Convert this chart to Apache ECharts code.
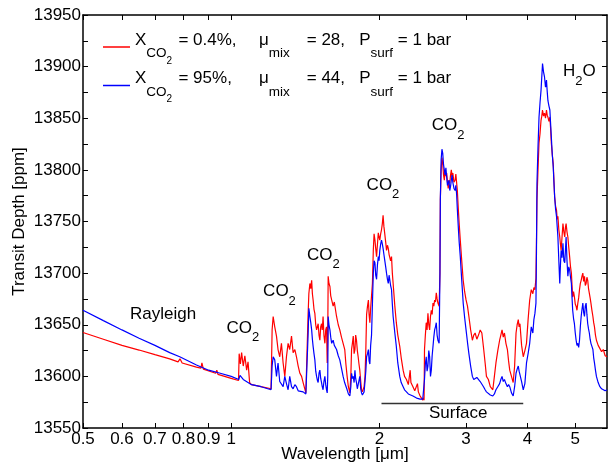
<!DOCTYPE html>
<html>
<head>
<meta charset="utf-8">
<script src="https://cdn.jsdelivr.net/npm/echarts@6/dist/echarts.min.js"></script>
<style>html,body{margin:0;padding:0;background:#fff}#c{width:608px;height:468px}</style>
</head>
<body>
<div id="c"></div>
<script>
// ---------- axis ticks ----------
const xTickValues = [0.5, 0.6, 0.7, 0.8, 0.9, 1, 2, 3, 4, 5];
const xMin = 0.5, xMax = 5.8;
const yTickValues = [13550,13575,13600,13625,13650,13675,13700,13725,13750,13775,13800,13825,13850,13875,13900,13925,13950];
const yLabelValues = [13550,13600,13650,13700,13750,13800,13850,13900,13950];

// ---------- series: X_CO2 = 0.4 % (red) ----------
const redWavelength = [0.50,0.55,0.60,0.65,0.70,0.75,0.78,0.787,0.795,0.85,0.868,0.872,0.878,0.93,0.935,0.94,1.00,1.035,1.038,1.044,1.05,1.058,1.066,1.075,1.082,1.09,1.10,1.15,1.205,
1.211,1.217,1.226,1.236,1.245,1.255,1.265,1.275,1.285,1.295,1.305,1.315,1.326,1.336,1.347,1.357,1.368,1.379,1.39,1.40,1.418,1.428,
1.433,1.438,1.445,1.451,1.457,1.462,1.467,1.473,1.479,1.485,1.491,1.502,1.508,1.514,1.52,1.526,1.531,1.537,1.543,1.55,1.556,1.562,1.567,1.571,1.574,1.58,1.587,1.593,1.6,1.611,1.62,1.637,1.65,1.662,1.675,1.688,1.701,1.71,1.72,1.73,1.742,
1.75,1.756,1.763,1.77,1.777,1.784,1.79,1.797,1.804,1.811,1.818,1.825,1.833,1.84,1.847,1.854,1.862,1.87,1.877,1.884,1.892,1.9,1.906,1.913,1.92,1.928,1.936,
1.944,1.951,1.959,1.966,1.974,1.982,1.99,1.997,2.004,2.012,2.02,2.028,2.035,2.043,2.05,2.06,2.068,2.077,2.085,2.093,2.10,2.108,2.117,2.125,2.133,2.15,2.165,2.18,2.20,2.215,2.235,2.25,2.27,2.29,2.31,2.318,2.34,2.36,2.38,2.39,2.40,2.42,2.435,2.45,2.46,2.465,
2.47,2.48,2.49,2.5,2.51,2.52,2.53,2.54,2.55,2.56,2.57,2.58,2.59,2.60,2.61,2.62,2.63,2.645,2.655,
2.66,2.67,2.68,2.69,2.70,2.71,2.72,2.73,2.74,2.75,2.76,2.77,2.78,2.79,2.80,2.81,2.82,2.835,2.85,2.86,2.87,2.88,2.895,2.905,2.92,2.94,2.96,2.98,3.00,3.02,3.04,3.065,3.09,3.11,3.13,3.155,3.18,3.205,3.23,3.255,3.28,3.30,3.33,3.36,3.40,3.425,3.45,3.48,3.51,3.53,3.55,3.57,3.59,3.615,3.64,3.66,3.68,3.71,3.74,3.765,3.79,3.81,3.83,3.845,3.86,3.89,3.92,3.95,3.98,
4.01,4.04,4.07,4.10,4.12,4.14,4.16,4.17,4.18,4.20,4.22,4.24,4.26,4.275,4.29,4.31,4.33,4.35,4.37,4.385,4.40,4.42,4.44,4.455,4.47,4.49,4.51,4.525,4.54,4.56,4.58,4.595,4.61,4.63,4.65,4.665,4.68,4.70,4.72,4.74,4.76,4.775,4.79,4.81,4.83,4.85,4.87,4.89,4.91,4.925,4.94,4.96,4.98,
5.00,5.02,5.04,5.06,5.08,5.10,5.12,5.14,5.16,5.18,5.20,5.22,5.24,5.26,5.28,5.30,5.32,5.34,5.36,5.38,5.405,5.43,5.45,5.47,5.495,5.52,5.565,5.61,5.655,5.70,5.75,5.80];
const redDepth = [13642.5,13636,13630,13625.5,13621,13617,13614,13617,13613,13609,13608,13613,13607,13603,13606,13602,13598,13596,13622,13612,13623,13610,13620,13606,13614,13594,13592,13590,13588,
13645,13658,13648,13639,13626,13619,13632,13613,13600,13619,13632,13626,13639,13623,13626,13619,13610,13603,13600,13594,13584,13583,
13660,13680,13690,13685,13693,13680,13674,13665,13661,13650,13645,13651,13640,13635,13648,13651,13645,13658,13640,13632,13645,13648,13613,13640,13697,13690,13687,13678,13674,13668,13672,13658,13650,13645,13638,13632,13626,13612,13600,13590,13584,
13600,13626,13632,13639,13622,13626,13640,13635,13625,13619,13612,13606,13595,13587,13585,13584,13590,13600,13625,13660,13668,13674,13660,13652,13666,13665,13690,
13722,13738,13732,13724,13716,13728,13739,13735,13732,13738,13742,13748,13756,13745,13739,13730,13722,13727,13724,13718,13719,13712,13716,13700,13690,13668,13652,13640,13629,13618,13606,13600,13597,13592,13606,13594,13590,13586,13587,13593,13585,13581,13579,13577,13579,13577,
13626,13640,13652,13645,13661,13650,13645,13658,13664,13660,13671,13668,13674,13672,13681,13675,13671,13668,13700,
13771,13800,13812,13806,13795,13790,13800,13794,13797,13788,13782,13790,13787,13795,13800,13793,13797,13788,13790,13796,13795,13780,13760,13748,13732,13712,13693,13682,13674,13668,13658,13645,13635,13640,13642,13636,13640,13645,13642,13628,13613,13600,13597,13590,13587,13600,13613,13625,13635,13640,13645,13638,13642,13632,13626,13615,13606,13600,13594,13610,13642,13650,13655,13648,13651,13630,13619,13625,13632,
13655,13674,13684,13680,13686,13684,13695,13730,13771,13800,13826,13835,13848,13852,13858,13852,13855,13850,13858,13853,13851,13847,13851,13840,13826,13815,13806,13790,13774,13765,13761,13752,13755,13742,13735,13728,13722,13735,13748,13740,13735,13744,13748,13740,13735,13725,13716,13706,13700,13688,13677,13682,13677,
13670,13668,13664,13671,13676,13684,13690,13693,13697,13700,13692,13697,13688,13690,13696,13693,13685,13684,13676,13671,13664,13658,13652,13648,13640,13635,13630,13629,13624,13626,13620,13619];

// ---------- series: X_CO2 = 95 % (blue) ----------
const blueWavelength = [0.50,0.55,0.60,0.65,0.70,0.75,0.786,0.85,0.90,0.95,1.00,1.036,1.042,1.05,1.058,1.10,1.15,1.205,
1.211,1.217,1.226,1.236,1.245,1.255,1.265,1.275,1.285,1.295,1.305,1.315,1.326,1.336,1.347,1.357,1.368,1.379,1.40,1.418,1.428,
1.433,1.438,1.445,1.451,1.457,1.462,1.467,1.473,1.479,1.485,1.491,1.497,1.502,1.508,1.514,1.52,1.526,1.531,1.537,1.543,1.55,1.556,1.562,1.567,1.571,1.574,1.58,1.587,1.593,1.60,1.611,1.62,1.637,1.65,1.662,1.675,1.688,1.70,1.72,1.73,1.742,
1.75,1.756,1.763,1.77,1.777,1.784,1.79,1.797,1.804,1.811,1.818,1.825,1.833,1.84,1.847,1.854,1.862,1.87,1.877,1.884,1.892,1.9,1.906,1.913,1.92,1.928,1.936,
1.944,1.951,1.959,1.966,1.974,1.982,1.99,1.997,2.004,2.012,2.02,2.028,2.035,2.043,2.05,2.06,2.068,2.077,2.085,2.093,2.10,2.108,2.117,2.125,2.133,2.15,2.165,2.18,2.20,2.215,2.235,2.25,2.27,2.29,2.31,2.34,2.36,2.38,2.42,2.45,2.465,
2.47,2.48,2.49,2.50,2.51,2.52,2.53,2.54,2.55,2.56,2.57,2.58,2.59,2.60,2.61,2.62,2.63,2.645,2.655,
2.66,2.67,2.68,2.69,2.70,2.71,2.72,2.73,2.74,2.75,2.76,2.77,2.78,2.79,2.80,2.81,2.82,2.835,2.85,2.86,2.87,2.88,2.895,2.905,2.92,2.94,2.96,2.98,3.00,3.02,3.04,3.065,3.09,3.11,3.13,3.155,3.18,3.205,3.23,3.255,3.28,3.30,3.33,3.36,3.40,3.425,3.45,3.48,3.51,3.53,3.55,3.57,3.59,3.615,3.64,3.66,3.68,3.71,3.74,3.765,3.79,3.81,3.83,3.845,3.86,3.89,3.92,3.95,3.98,
4.01,4.04,4.07,4.10,4.12,4.14,4.16,4.17,4.18,4.20,4.22,4.24,4.26,4.275,4.29,4.31,4.33,4.35,4.37,4.385,4.40,4.42,4.44,4.455,4.47,4.49,4.51,4.525,4.54,4.56,4.58,4.595,4.61,4.63,4.65,4.665,4.68,4.70,4.72,4.74,4.76,4.775,4.79,4.81,4.83,4.85,4.87,4.89,4.91,4.925,4.94,4.96,4.98,
5.00,5.02,5.04,5.06,5.08,5.10,5.12,5.14,5.16,5.18,5.20,5.22,5.24,5.26,5.28,5.30,5.32,5.34,5.36,5.38,5.405,5.43,5.45,5.47,5.495,5.52,5.565,5.61,5.655,5.70,5.75,5.80];
const blueDepth = [13664,13654,13645,13637,13630,13623,13619,13611,13606,13603,13600,13597,13601,13600,13597,13592,13590,13587,
13610,13619,13616,13600,13613,13595,13596,13590,13600,13593,13587,13600,13590,13588,13592,13590,13586,13587,13585,13583,13582.5,
13640,13666,13658,13652,13645,13636,13629,13622,13616,13605,13600,13596,13594,13603,13606,13598,13594,13590,13587,13595,13600,13592,13587,13584,13600,13658,13650,13645,13638,13632,13635,13630,13626,13620,13616,13608,13600,13594,13587,13583,13581,
13590,13603,13598,13600,13594,13606,13598,13594,13588,13587,13596,13600,13588,13584,13582,13581,13585,13595,13605,13619,13622,13626,13615,13612,13630,13640,13670,
13700,13712,13710,13698,13694,13708,13716,13712,13722,13728,13732,13728,13724,13718,13713,13706,13700,13694,13690,13698,13697,13688,13684,13670,13658,13642,13629,13613,13600,13594,13590,13587,13585,13583,13582,13581,13580,13579,13578,13578,13578,
13597,13612,13619,13605,13610,13625,13619,13600,13606,13620,13629,13638,13645,13648,13652,13640,13635,13632,13700,
13771,13810,13820,13816,13805,13800,13795,13802,13793,13785,13786,13790,13780,13784,13790,13795,13788,13782,13780,13785,13777,13762,13742,13730,13716,13693,13671,13657,13645,13633,13622,13610,13600,13597,13596,13599,13598,13595,13596,13590,13587,13585,13584,13582,13581,13583,13587,13590,13593,13597,13600,13595,13597,13593,13590,13592,13590,13584,13581,13590,13603,13607,13610,13605,13606,13595,13587,13593,13613,
13622,13632,13648,13642,13655,13661,13671,13720,13787,13822,13851,13865,13877,13890,13903,13895,13890,13880,13887,13876,13867,13862,13858,13845,13832,13815,13803,13788,13774,13762,13755,13745,13735,13712,13690,13708,13722,13715,13729,13712,13710,13722,13735,13712,13697,13706,13703,13696,13690,13676,13664,13656,13651,
13642,13635,13630,13632,13628,13635,13648,13658,13665,13671,13662,13658,13668,13671,13660,13651,13646,13642,13636,13632,13629,13626,13618,13613,13606,13600,13594,13590,13588,13587,13586,13587];

// ---------- legend content ----------
const seriesNames = ['XCO2 = 0.4%', 'XCO2 = 95%'];
const seriesColors = ['#ff0000', '#0000ff'];
const legendXco2 = ['0.4%,', '95%,'];
const legendMu = ['28,', '44,'];
const legendPsurf = ['1 bar', '1 bar'];

// ---------- annotations [wavelength, depth, text] ----------
const annotations = [
  {wl: 0.727, depth: 13660, main: 'Rayleigh', align: 'center'},
  {wl: 0.978, depth: 13647, parts: ['CO', '2']},
  {wl: 1.161, depth: 13682, parts: ['CO', '2']},
  {wl: 1.426, depth: 13717.5, parts: ['CO', '2']},
  {wl: 1.884, depth: 13785, parts: ['CO', '2']},
  {wl: 2.554, depth: 13843, parts: ['CO', '2']},
  {wl: 4.72, depth: 13895, parts: ['H', '2', 'O']},
  {wl: 2.892, depth: 13564.5, main: 'Surface', align: 'center'}
];
const surfaceLine = {from: 2.02, to: 3.92, depth: 13574};

const FONT = "'Liberation Sans', Arial, Helvetica, sans-serif";
const lg = Math.log10;
const toPairs = (w, d) => w.map((v, i) => [lg(v), d[i]]);

const chart = echarts.init(document.getElementById('c'), null, {renderer: 'canvas'});

const mainTok = {fontSize: 17, fontFamily: FONT, color: '#000', height: 24, lineHeight: 37.6, verticalAlign: 'top'};
const legendRich = {
  m: mainTok,
  v1: Object.assign({}, mainTok, {width: 80.5}),
  v2: Object.assign({}, mainTok, {width: 52.5}),
  g1: Object.assign({}, mainTok, {width: 6.3}),
  g2: Object.assign({}, mainTok, {width: 17}),
  s: {fontSize: 13.5, fontFamily: FONT, color: '#000', height: 24.6, lineHeight: 24.6, verticalAlign: 'bottom'},
  ss: {fontSize: 10, fontFamily: FONT, color: '#000', height: 9.6, lineHeight: 9.6, verticalAlign: 'bottom'}
};

const axisCommonX = {
  type: 'value', min: lg(xMin), max: lg(xMax),
  axisLine: {show: true, onZero: false, lineStyle: {color: '#000', width: 1.5}},
  axisTick: {show: true, inside: true, length: 5, customValues: xTickValues.map(lg), lineStyle: {color: '#000', width: 1}},
  splitLine: {show: false}, minorTick: {show: false}
};
const axisCommonY = {
  type: 'value', min: 13550, max: 13950, interval: 50,
  axisLine: {show: true, onZero: false, lineStyle: {color: '#000', width: 1.5}},
  axisTick: {show: true, inside: true, length: 5, customValues: yTickValues, lineStyle: {color: '#000', width: 1}},
  splitLine: {show: false}
};

const option = {
  animation: false,
  backgroundColor: '#fff',
  textStyle: {fontFamily: FONT},
  grid: {left: 83, right: 1, top: 15, bottom: 40, containLabel: false, outerBoundsMode: 'none'},
  legend: {
    data: seriesNames, orient: 'vertical', left: 103, top: 28.2, padding: 0, itemGap: 0.7,
    itemWidth: 27, itemHeight: 1.5, icon: 'rect', selectedMode: false,
    textStyle: {fontSize: 17, fontFamily: FONT, color: '#000', rich: legendRich},
    formatter: function (name) {
      const i = seriesNames.indexOf(name);
      return '{m|X}{s|CO}{ss|2}{g1| }{v1|= ' + legendXco2[i] + '}{m|μ}{s|mix}{g2| }{v2|= ' + legendMu[i] +
             '}{m|P}{s|surf}{m| = ' + legendPsurf[i] + '}';
    }
  },
  xAxis: [
    Object.assign({}, axisCommonX, {
      position: 'bottom',
      name: 'Wavelength [μm]', nameLocation: 'middle', nameGap: 18, nameMoveOverlap: false,
      nameTextStyle: {fontSize: 17, color: '#000', fontFamily: FONT},
      axisLabel: {show: true, customValues: xTickValues.map(lg), margin: 3, fontSize: 17, color: '#000', fontFamily: FONT,
        formatter: v => String(+Math.pow(10, v).toFixed(2))}
    }),
    Object.assign({}, axisCommonX, {position: 'top', axisLabel: {show: false}})
  ],
  yAxis: [
    Object.assign({}, axisCommonY, {
      position: 'left',
      name: 'Transit Depth [ppm]', nameLocation: 'middle', nameGap: 55, nameMoveOverlap: false,
      nameTextStyle: {fontSize: 17, color: '#000', fontFamily: FONT},
      axisLabel: {show: true, customValues: yLabelValues, margin: 2, fontSize: 17, color: '#000', fontFamily: FONT,
        formatter: v => String(v)}
    }),
    Object.assign({}, axisCommonY, {position: 'right', axisLabel: {show: false}})
  ],
  series: [
    {
      name: seriesNames[0], type: 'line', xAxisIndex: 0, yAxisIndex: 0,
      data: toPairs(redWavelength, redDepth), showSymbol: false, symbol: 'none',
      lineStyle: {color: seriesColors[0], width: 1.2}, itemStyle: {color: seriesColors[0]}, z: 2
    },
    {
      name: seriesNames[1], type: 'line', xAxisIndex: 0, yAxisIndex: 0,
      data: toPairs(blueWavelength, blueDepth), showSymbol: false, symbol: 'none',
      lineStyle: {color: seriesColors[1], width: 1.2}, itemStyle: {color: seriesColors[1]}, z: 3
    },
    {
      name: 'Surface', type: 'line', xAxisIndex: 0, yAxisIndex: 0, data: [],
      markLine: {
        silent: true, symbol: ['none', 'none'], animation: false, label: {show: false},
        lineStyle: {color: '#333', width: 1.3, type: 'solid'},
        data: [[{coord: [lg(surfaceLine.from), surfaceLine.depth]}, {coord: [lg(surfaceLine.to), surfaceLine.depth]}]]
      }
    }
  ]
};
chart.setOption(option);

// annotations placed through the grid's coordinate system
const annoRich = {
  b: {fontSize: 17, fontFamily: FONT, fill: '#000', height: 20, lineHeight: 30, verticalAlign: 'top'},
  s: {fontSize: 13, fontFamily: FONT, fill: '#000', height: 21, lineHeight: 21, verticalAlign: 'bottom'}
};
const graphics = annotations.map(a => {
  const p = chart.convertToPixel({gridIndex: 0}, [lg(a.wl), a.depth]);
  if (a.main) {
    return {type: 'text', x: p[0], y: p[1], silent: true,
      style: {text: a.main, fontSize: 17, fontFamily: FONT, fill: '#000', align: a.align, verticalAlign: 'middle'}};
  }
  const txt = a.parts.map((t, i) => (i % 2 === 1 ? '{s|' : '{b|') + t + '}').join('');
  return {type: 'text', x: p[0], y: p[1] - 10, silent: true,
    style: {text: txt, rich: annoRich, fill: '#000', align: 'left', verticalAlign: 'top'}};
});
chart.setOption({graphic: graphics});
</script>
</body>
</html>
